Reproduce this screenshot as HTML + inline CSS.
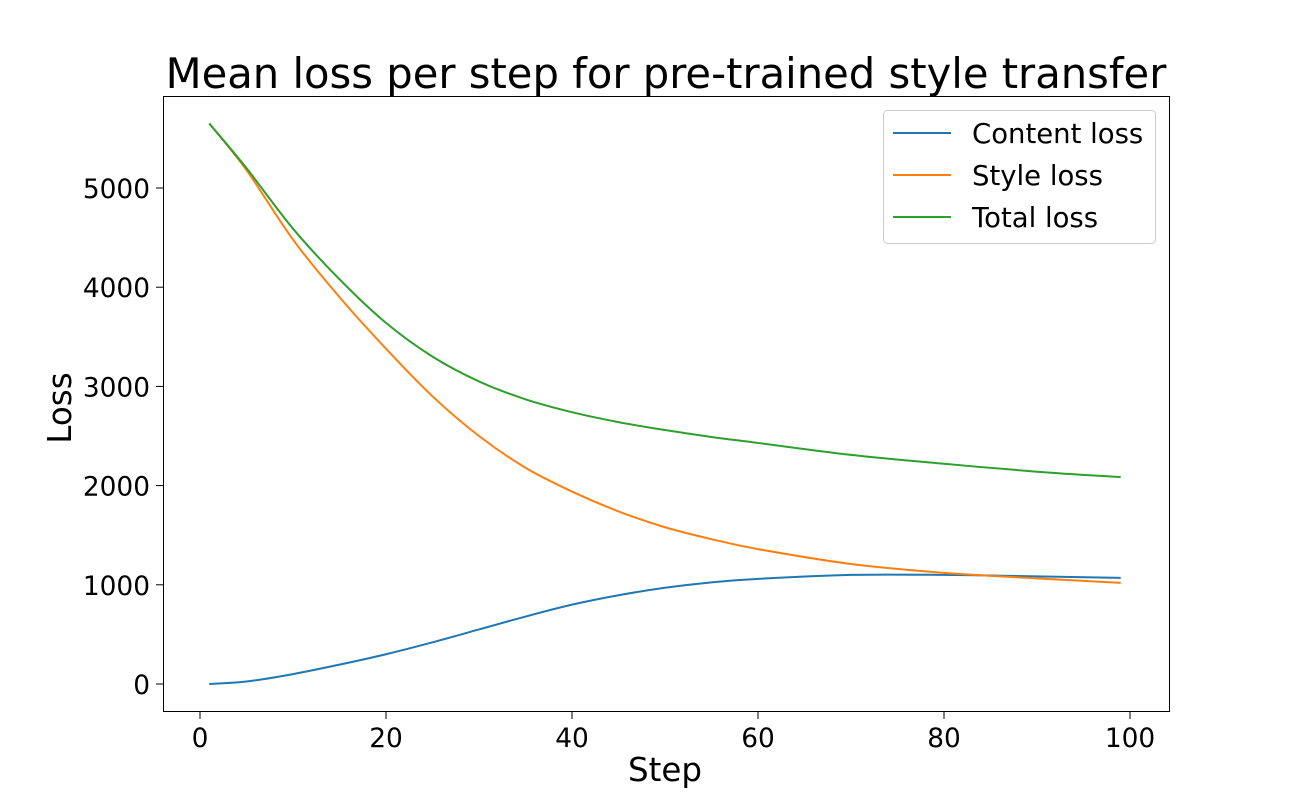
<!DOCTYPE html>
<html><head><meta charset="utf-8"><style>
html,body{margin:0;padding:0;background:#fff;}
svg{display:block;font-family:"DejaVu Sans","Liberation Sans",sans-serif;}
</style></head><body>
<svg id="chart" width="1300" height="800" viewBox="0 0 1300 800">
<rect x="0" y="0" width="1300" height="800" fill="#fff"/>
<text x="666" y="88" font-size="41.7" text-anchor="middle">Mean loss per step for pre-trained style transfer</text>
<g id="series"></g>
<g id="axes"></g>
<rect x="163.5" y="96.5" width="1006" height="615" fill="none" stroke="#000" stroke-width="1"/>
<text x="665" y="781" font-size="32.5" text-anchor="middle">Step</text>
<text transform="translate(71,408) rotate(-90)" font-size="32.5" text-anchor="middle">Loss</text>
<g>
<rect x="883.5" y="110.5" width="272" height="133" rx="4" fill="#fff" stroke="#ccc"/>
<line x1="893" y1="133" x2="951" y2="133" stroke="#1f77b4" stroke-width="2"/>
<text x="972" y="143" font-size="27.5">Content loss</text>
<line x1="893" y1="175" x2="951" y2="175" stroke="#ff7f0e" stroke-width="2"/>
<text x="972" y="185" font-size="27.5">Style loss</text>
<line x1="893" y1="217" x2="951" y2="217" stroke="#2ca02c" stroke-width="2"/>
<text x="972" y="227" font-size="27.5">Total loss</text>
</g>
</svg>
<script>
const steps = [1,5,10,15,20,25,30,35,40,45,50,55,60,70,80,90,99];
const contentLoss = [0,25,100,195,300,420,550,680,800,895,970,1025,1060,1100,1100,1085,1070];
const styleLoss = [5650,5180,4480,3900,3380,2900,2500,2180,1940,1740,1580,1460,1360,1210,1120,1065,1020];
const totalLoss = [5650,5200,4590,4080,3640,3300,3050,2870,2740,2640,2560,2490,2430,2310,2220,2140,2085];
const xTicks = [0,20,40,60,80,100];
const yTicks = [0,1000,2000,3000,4000,5000];

const NS='http://www.w3.org/2000/svg';
const xs=v=>200+v*9.3;
const ys=v=>684-v*0.0992;
const series=document.getElementById('series');
const axes=document.getElementById('axes');
function path(vals,color,name){
  const p=steps.map((s,i)=>[xs(s),ys(vals[i])]);
  let d='M'+p[0][0]+','+p[0][1];
  for(let i=0;i<p.length-1;i++){
    const p0=p[Math.max(0,i-1)],p1=p[i],p2=p[i+1],p3=p[Math.min(p.length-1,i+2)];
    const c1=[p1[0]+(p2[0]-p0[0])/6,p1[1]+(p2[1]-p0[1])/6];
    const c2=[p2[0]-(p3[0]-p1[0])/6,p2[1]-(p3[1]-p1[1])/6];
    d+=' C'+c1+' '+c2+' '+p2;
  }
  const el=document.createElementNS(NS,'path');
  el.setAttribute('d',d);el.setAttribute('fill','none');el.setAttribute('stroke',color);el.setAttribute('stroke-width','2');
  
  
  series.appendChild(el);
}
path(contentLoss,'#1f77b4','content-loss-line');
path(styleLoss,'#ff7f0e','style-loss-line');
path(totalLoss,'#2ca02c','total-loss-line');
xTicks.forEach(t=>{
  const x=xs(t);
  const l=document.createElementNS(NS,'line');
  l.setAttribute('x1',x);l.setAttribute('x2',x);l.setAttribute('y1',712);l.setAttribute('y2',719);l.setAttribute('stroke','#000');
  
  
  axes.appendChild(l);
  const tx=document.createElementNS(NS,'text');
  tx.setAttribute('x',x);tx.setAttribute('y',747);tx.setAttribute('font-size','26.4');tx.setAttribute('text-anchor','middle');
  tx.textContent=t;
  
  
  axes.appendChild(tx);
});
yTicks.forEach(t=>{
  const y=ys(t);
  const l=document.createElementNS(NS,'line');
  l.setAttribute('x1',156);l.setAttribute('x2',163);l.setAttribute('y1',y);l.setAttribute('y2',y);l.setAttribute('stroke','#000');
  
  
  axes.appendChild(l);
  const tx=document.createElementNS(NS,'text');
  tx.setAttribute('x',150);tx.setAttribute('y',y+10);tx.setAttribute('font-size','26.4');tx.setAttribute('text-anchor','end');
  tx.textContent=t;
  
  
  axes.appendChild(tx);
});
</script>
</body></html>
